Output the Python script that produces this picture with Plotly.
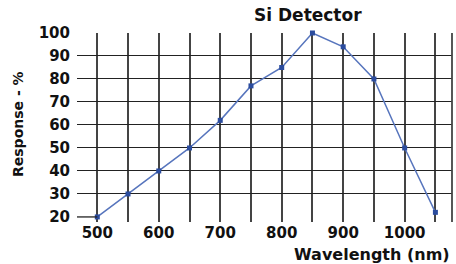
import plotly.graph_objects as go

wavelength = [500, 550, 600, 650, 700, 750, 800, 850, 900, 950, 1000, 1050]
response = [20, 30, 40, 50, 62, 77, 85, 100, 94, 80, 50, 22]
x_ticks = [500, 600, 700, 800, 900, 1000]
y_ticks = [20, 30, 40, 50, 60, 70, 80, 90, 100]
y_grid = [30, 40, 50, 60, 70, 80, 90]

x_range = [467, 1077]
y_range = [17.8, 100]

font_family = "DejaVu Sans"
grid_color = "#444444"

fig = go.Figure()
fig.add_trace(go.Scatter(
    x=wavelength, y=response, mode="lines+markers",
    line=dict(color="#5775bd", width=1.5),
    marker=dict(color="#2b4c9e", size=5, symbol="square"),
    showlegend=False, cliponaxis=False,
))

fig.update_layout(
    width=456, height=264,
    margin=dict(l=77, r=4, t=33, b=42),
    paper_bgcolor="white", plot_bgcolor="white",
    font=dict(family=font_family, color="#111"),
    xaxis=dict(
        range=x_range, tickvals=x_ticks, ticktext=[str(v) for v in x_ticks],
        showgrid=False, zeroline=False, showline=False, ticks="",
        tickfont=dict(size=15, family=font_family, weight="bold", color="#111"),
        minor=dict(dtick=50, tick0=500, showgrid=True, gridcolor=grid_color, gridwidth=1.8),
    ),
    yaxis=dict(
        range=y_range, tickvals=y_ticks, ticktext=[str(v) for v in y_ticks],
        showgrid=False, zeroline=False, showline=False, ticks="",
        ticklabelstandoff=6,
        tickfont=dict(size=15, family=font_family, weight="bold", color="#111"),
        minor=dict(tickvals=y_grid, showgrid=True, gridcolor="#222", gridwidth=1.3),
    ),
    shapes=[
        dict(type="line", xref="paper", yref="paper", x0=1, x1=1, y0=0, y1=1,
             line=dict(color=grid_color, width=1.8)),
        dict(type="line", xref="paper", yref="y", x0=0,
             x1=(wavelength[0] - x_range[0]) / (x_range[1] - x_range[0]),
             y0=y_ticks[0], y1=y_ticks[0], line=dict(color="#222", width=1.3)),
    ],
    annotations=[
        dict(text="<b>Si Detector</b>", xref="paper", yref="paper", x=(308 - 77) / 375, y=1,
             yshift=18, showarrow=False, xanchor="center", yanchor="middle",
             font=dict(size=17, family=font_family, color="#111")),
        dict(text="<b>Wavelength (nm)</b>", xref="paper", yref="paper", x=1, y=0,
             yshift=-32, showarrow=False, xanchor="right", yanchor="middle",
             font=dict(size=16, family=font_family, color="#111")),
        dict(text="<b>Response - %</b>", xref="paper", yref="paper", x=0, y=(222 - 124) / 189,
             xshift=-59, showarrow=False, textangle=-90, xanchor="center", yanchor="middle",
             font=dict(size=14, family=font_family, color="#111")),
    ],
)

fig.write_html("out.html", config={"displayModeBar": False},
               post_script="document.body.style.margin='0';")
